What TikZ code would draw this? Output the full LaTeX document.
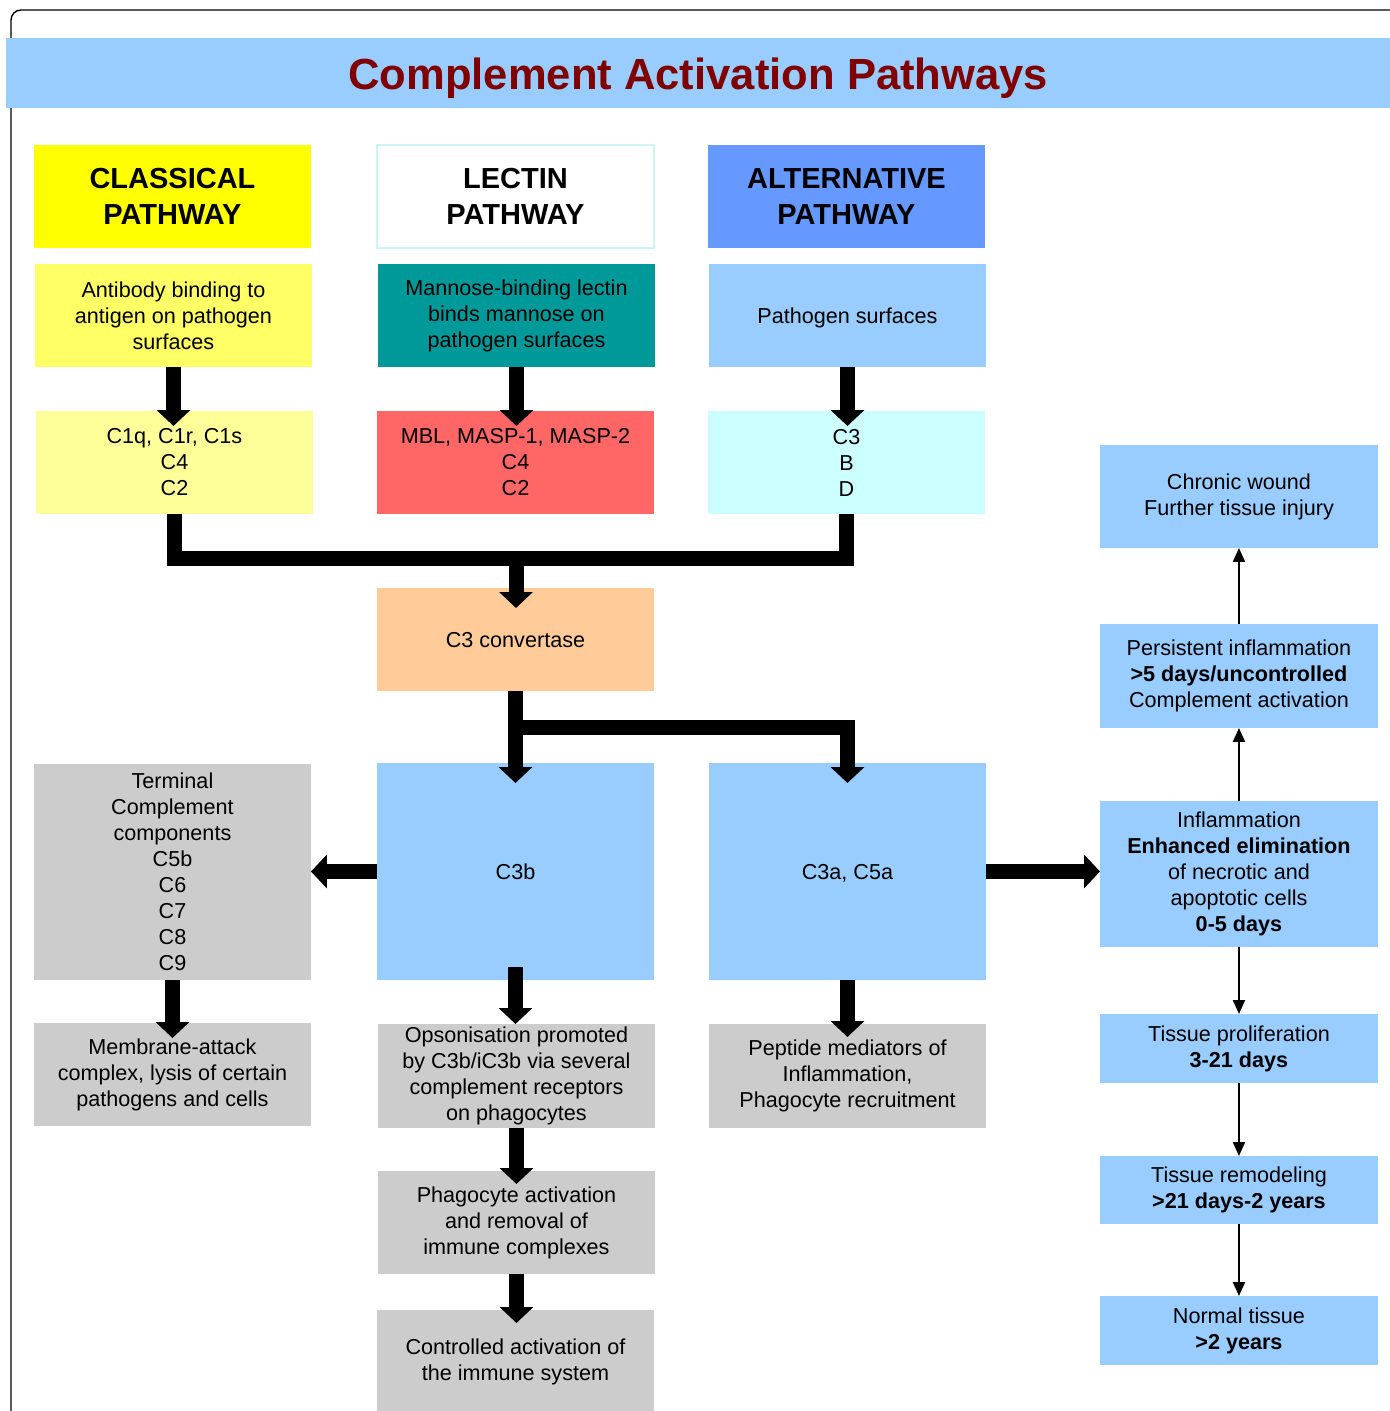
\documentclass[tikz,border=0pt]{standalone}
\usepackage{fontspec}
\setmainfont{Liberation Sans}
\usetikzlibrary{arrows.meta,positioning}
\definecolor{TitleBlue}{HTML}{99CCFF}
\definecolor{TitleRed}{HTML}{800000}
\definecolor{ClassHead}{HTML}{FFFF00}
\definecolor{ClassSite}{HTML}{FFFF66}
\definecolor{ClassComp}{HTML}{FFFF99}
\definecolor{LectEdge}{HTML}{CCF5F5}
\definecolor{LectSite}{HTML}{009999}
\definecolor{LectComp}{HTML}{FF6666}
\definecolor{AltHead}{HTML}{6699FF}
\definecolor{AltSite}{HTML}{99CCFF}
\definecolor{AltComp}{HTML}{CCFFFF}
\definecolor{ConvOrange}{HTML}{FFCC99}
\definecolor{PaleBlue}{HTML}{99CCFF}
\definecolor{MidGray}{HTML}{CCCCCC}
\newcommand{\bodyfont}{\fontsize{12.3}{14.8}\selectfont}
\newcommand{\headfont}{\fontsize{16.5}{20.5}\selectfont\bfseries}

\begin{document}
\begin{tikzpicture}[
  x=0.02cm,y=-0.02cm,
  box/.style={anchor=north west,minimum width=5.54cm,minimum height=2.06cm,inner sep=0pt,outer sep=0pt,align=center,font=\bodyfont},
  head/.style={box,font=\headfont},
  tall/.style={box,minimum height=4.34cm},
  stage/.style={box,minimum width=5.56cm,fill=PaleBlue},
  fat/.style={line width=0.3cm,-{Triangle[length=0.32cm,width=0.66cm]}},
  fatbar/.style={line width=0.3cm,line join=miter},
  thin/.style={line width=1.2pt,-{Triangle[length=0.28cm,width=0.24cm]}}
]
\clip (0,0) rectangle (1390,1411);
\draw[line width=0.8pt,rounded corners=0.2cm] (11,1460) |- (1460,10);
\node[anchor=north west,minimum width=27.68cm,minimum height=1.4cm,inner sep=0pt,fill=TitleBlue,text depth=0pt,
  text=TitleRed,font=\fontsize{24.8}{28}\selectfont\bfseries] (title) at (6,38) {Complement Activation Pathways};
% pathway headers
\node[head,fill=ClassHead] (clhead) at (34,145) {CLASSICAL\\PATHWAY};
\node[head,fill=white,draw=LectEdge,line width=1.2pt] (lehead) at (377,145) {LECTIN\\PATHWAY};
\node[head,fill=AltHead] (alhead) at (708,145) {ALTERNATIVE\\PATHWAY};
% triggers
\node[box,fill=ClassSite] (clsite) at (35,264) {Antibody binding to\\antigen on pathogen\\surfaces};
\node[box,fill=LectSite] (lesite) at (378,264) {Mannose-binding lectin\\binds mannose on\\pathogen surfaces};
\node[box,fill=AltSite,text depth=0pt] (alsite) at (709,264) {Pathogen surfaces};
% components
\node[box,fill=ClassComp] (clcomp) at (36,411) {C1q, C1r, C1s\\C4\\C2};
\node[box,fill=LectComp] (lecomp) at (377,411) {MBL, MASP-1, MASP-2\\C4\\C2};
\node[box,fill=AltComp] (alcomp) at (708,411) {C3\\B\\D};
\node[box,fill=ConvOrange,text depth=0pt] (conv) at (377,588) {C3 convertase};
% cleavage products
\node[tall,fill=PaleBlue,text depth=0pt] (ctb) at (377,763) {C3b};
\node[tall,fill=PaleBlue,text depth=0pt] (ctac) at (709,763) {C3a, C5a};
\node[tall,fill=MidGray,minimum height=4.32cm] (term) at (34,764) {Terminal\\Complement\\components\\C5b\\C6\\C7\\C8\\C9};
\node[box,fill=MidGray] (mac) at (34,1023) {Membrane-attack\\complex, lysis of certain\\pathogens and cells};
\node[box,fill=MidGray,minimum height=2.08cm] (opso) at (378,1024) {Opsonisation promoted\\by C3b/iC3b via several\\complement receptors\\on phagocytes};
\node[box,fill=MidGray] (phago) at (378,1171) {Phagocyte activation\\and removal of\\immune complexes};
\node[box,fill=MidGray] (ctrl) at (377,1310) {Controlled activation of\\the immune system};
\node[box,fill=MidGray,minimum height=2.08cm] (pept) at (709,1024) {Peptide mediators of\\Inflammation,\\Phagocyte recruitment};
% wound healing stages
\node[stage] (chronic) at (1100,445) {Chronic wound\\Further tissue injury};
\node[stage,minimum height=2.08cm] (persist) at (1100,624) {Persistent inflammation\\\textbf{>5 days/uncontrolled}\\Complement activation};
\node[stage,minimum height=2.92cm] (infl) at (1100,801) {Inflammation\\\textbf{Enhanced elimination}\\of necrotic and\\apoptotic cells\\\textbf{0-5 days}};
\node[stage,minimum height=1.38cm] (prolif) at (1100,1014) {Tissue proliferation\\\textbf{3-21 days}};
\node[stage,minimum height=1.36cm] (remod) at (1100,1156) {Tissue remodeling\\\textbf{>21 days-2 years}};
\node[stage,minimum height=1.38cm] (normal) at (1100,1296) {Normal tissue\\\textbf{>2 years}};
% thick connectors
\coordinate (merge) at (516,558);
\coordinate (fork) at (516,727);
\draw[fat] (clsite.south) -- ([yshift=-0.3cm]clsite.south |- clcomp.north);
\draw[fat] (lesite.south) -- ([yshift=-0.3cm]lesite.south |- lecomp.north);
\draw[fat] (alsite.south) -- ([yshift=-0.3cm]alsite.south |- alcomp.north);
\draw[fatbar] (clcomp.south) |- (merge) -| (alcomp.south);
\draw[fat] (merge) -- ([yshift=-0.4cm]merge |- conv.north);
\draw[fat] (conv.south) -- ([yshift=-0.4cm]ctb.north);
\draw[fat] (fork) -| ([yshift=-0.4cm]ctac.north);
\draw[fat] (ctb.west) -- (ctb.west -| term.east);
\draw[fat] (ctac.east) -- (ctac.east -| infl.west);
\draw[fat] (term.south) -- ([yshift=-0.3cm]term.south |- mac.north);
\draw[fat] ([yshift=0.26cm]ctb.south) -- (ctb.south |- opso.north);
\draw[fat] (ctac.south) -- ([yshift=-0.26cm]ctac.south |- pept.north);
\draw[fat] (opso.south) -- ([yshift=-0.26cm]opso.south |- phago.north);
\draw[fat] (phago.south) -- ([yshift=-0.26cm]phago.south |- ctrl.north);
% thin connectors
\draw[thin] (infl.north) -- (persist.south);
\draw[thin] (persist.north) -- (chronic.south);
\draw[thin] (infl.south) -- (prolif.north);
\draw[thin] (prolif.south) -- (remod.north);
\draw[thin] (remod.south) -- (normal.north);
\end{tikzpicture}
\end{document}
